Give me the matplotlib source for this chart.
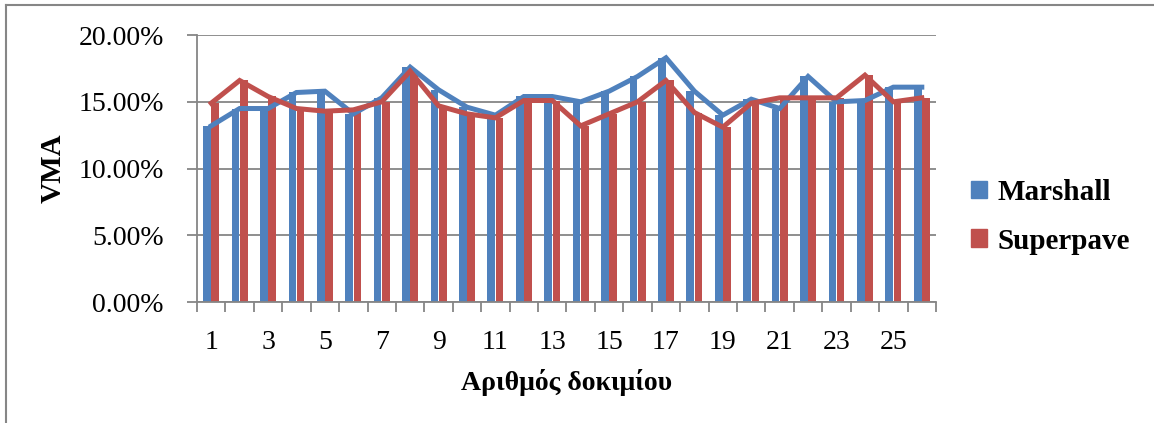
import numpy as np
import matplotlib
matplotlib.use("Agg")
import matplotlib.pyplot as plt
from matplotlib.ticker import FuncFormatter
from matplotlib.patches import Rectangle

# VMA values (in %)
samples = list(range(1, 27))
marshall = [13.2, 14.5, 14.5, 15.7, 15.8, 14.1, 15.3, 17.6, 15.9, 14.6,
            14.0, 15.4, 15.4, 15.0, 15.8, 16.9, 18.3, 15.8, 14.0, 15.2,
            14.5, 16.9, 15.0, 15.1, 16.1, 16.1]
superpave = [14.9, 16.6, 15.4, 14.5, 14.3, 14.4, 15.0, 17.3, 14.7, 14.1,
             13.8, 15.1, 15.1, 13.2, 14.1, 15.0, 16.6, 14.2, 13.1, 14.9,
             15.3, 15.3, 15.3, 17.0, 15.0, 15.3]

blue = "#4F81BD"
red = "#C0504D"
grey = "#868686"

plt.rcParams["font.family"] = ["Liberation Serif", "DejaVu Serif"]

fig = plt.figure(figsize=(11.54, 4.23), dpi=100)
ax = fig.add_axes([0.1707, 0.286, 0.8111 - 0.1707, 0.917 - 0.286])

x = np.arange(len(samples))
w = 0.27
ax.bar(x - w / 2 - 0.01, marshall, width=w, color=blue, zorder=2)
ax.bar(x + w / 2 + 0.01, superpave, width=w, color=red, zorder=2)
ax.plot(x, marshall, color=blue, lw=3.6, zorder=3, solid_joinstyle="miter")
ax.plot(x, superpave, color=red, lw=3.6, zorder=4, solid_joinstyle="miter")

ax.set_xlim(-0.5, len(samples) - 0.5)
ax.set_ylim(0, 20)
ax.set_yticks([0, 5, 10, 15, 20])
ax.yaxis.set_major_formatter(FuncFormatter(lambda v, p: f"{v:.2f}%"))
ax.grid(axis="y", color=grey, lw=1.3, zorder=0)
ax.set_axisbelow(True)

# x ticks between categories, labels every other category
ax.set_xticks(np.arange(-0.5, len(samples), 1.0))
ax.set_xticklabels([])
ax.set_xticks(x[::2], minor=True)
ax.set_xticklabels([str(s) for s in samples[::2]], minor=True)
ax.tick_params(axis="x", which="major", length=7, width=1.3, color=grey, direction="out")
ax.tick_params(axis="x", which="minor", length=0, pad=20, labelsize=20)
ax.tick_params(axis="y", length=7, width=1.3, color=grey, pad=17, labelsize=20)

for s in ["top", "right"]:
    ax.spines[s].set_visible(False)
for s in ["left", "bottom"]:
    ax.spines[s].set_color(grey)
    ax.spines[s].set_linewidth(1.3)

ax.set_ylabel("VMA", fontsize=21, fontweight="bold", labelpad=8)
ax.set_xlabel("Αριθμός δοκιμίου", fontsize=20, fontweight="bold", labelpad=10)

handles = [Rectangle((0, 0), 1, 1, color=blue), Rectangle((0, 0), 1, 1, color=red)]
fig.legend(handles, ["Marshall", "Superpave"], loc="center left",
           bbox_to_anchor=(0.819, 0.488), frameon=False, prop={"size": 21, "weight": "bold"},
           handlelength=0.55, handleheight=0.55, handletextpad=0.35, labelspacing=0.75)

# outer chart border (only top and left visible)
fig.add_artist(plt.Line2D([0.0052, 1.0], [0.988, 0.988], color=grey, lw=1.5, transform=fig.transFigure))
fig.add_artist(plt.Line2D([0.0052, 0.0052], [0.0, 0.988], color=grey, lw=1.5, transform=fig.transFigure))

fig.savefig("out.png", dpi=100)
